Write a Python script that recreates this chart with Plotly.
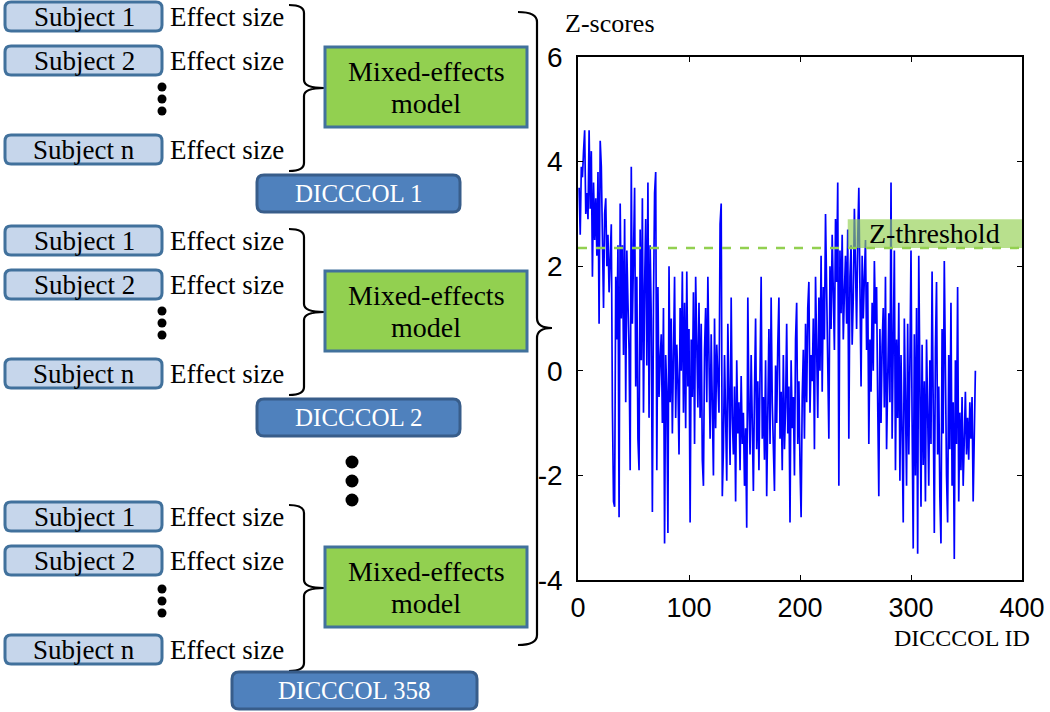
import plotly.graph_objects as go

# ---------------- data ----------------
z_scores = [
    3.5, 2.6, 3.9, 3.7, 4.2, 4.6, 3.0, 3.4, 2.9, 4.6,
    3.1, 4.2, 1.8, 3.6, 2.5, 3.3, 2.2, 3.8, 0.9, 4.4,
    3.9, 2.1, 1.2, 3.0, 3.3, 2.0, 2.6, 1.5, 2.4, 2.8,
    -0.7, -2.5, -2.6, 1.8, 0.6, 2.4, -2.8, 3.2, 1.0, 2.4,
    0.3, 2.9, -0.6, 2.3, 1.3, 0.4, -1.9, 3.9, 0.9, 2.6,
    3.5, -0.3, 1.8, -1.3, -1.9, 2.7, 0.2, 3.3, -0.8, 1.6,
    2.9, 0.1, 3.6, -0.9, 2.4, 1.0, -2.7, 1.3, 3.4, 3.8,
    -1.9, 1.6, -0.5, 0.2, 0.7, -1.0, 1.2, -3.3, 0.3, -0.4,
    -3.1, 2.0, -0.6, 1.0, -1.2, 0.3, 1.8, -0.9, 0.5, -0.2,
    -1.6, 1.2, 0.0, 1.9, -0.8, 1.3, -1.1, 1.9, -0.3, 0.8,
    -2.9, 0.6, -0.5, 1.5, -1.4, 1.8, 0.2, -0.7, 1.3, -0.9,
    0.9, -1.7, -2.2, 0.4, 1.2, -0.6, 1.8, 0.1, -1.3, 0.7,
    -0.4, -2.0, 1.0, -1.1, 0.5, -0.3, -0.8, 2.8, 3.2, -2.4,
    -1.5, 0.3, -1.0, -2.1, 0.9, -0.6, -1.8, 1.4, -0.9, -1.6,
    -0.3, -2.5, 0.2, -1.2, -0.6, -1.9, -0.1, -1.4, -0.8, -2.2,
    -1.1, -3.0, 1.4, -0.7, -1.6, 0.3, -1.2, -2.3, -0.4, 1.0,
    -1.5, -0.2, -1.9, 0.6, 1.8, -1.3, -0.5, -1.7, 0.2, -2.4,
    -0.9, 0.8, -1.4, 1.4, -0.6, -1.8, -2.3, 0.1, -1.0, 0.5,
    1.4, -1.3, -0.4, -1.9, 0.3, -1.5, -0.7, 0.9, -1.2, -0.3,
    -2.9, 0.2, -1.1, -0.5, -2.0, 0.6, 1.3, -1.4, -0.2, -1.8,
    -2.8, -0.5, 0.4, -1.3, 0.9, -0.6, 1.2, 1.7, -0.8, 0.3,
    -0.2, 1.0, -1.5, 1.8, 0.5, -0.9, 1.4, 0.0, 2.2, -0.4,
    1.6, 0.6, 3.0, 1.2, 0.2, -1.3, 2.0, 0.8, 2.6, 1.5,
    0.4, 2.9, 1.7, 3.6, -2.2, 2.3, 1.1, 2.6, 0.6, 1.5,
    2.2, 0.9, 2.7, -1.3, 1.8, 2.4, 0.5, 1.4, 3.1, 2.0,
    0.8, 2.5, 3.5, 1.6, -0.3, 2.2, 1.0, 1.8, 2.5, 0.4,
    1.7, -1.4, 0.6, -0.4, 1.3, 0.0, 2.1, 0.9, 1.6, -0.6,
    -2.4, 0.8, -1.0, 0.5, 1.2, -0.7, 1.8, -1.5, 0.2, 1.1,
    -0.6, 3.6, -1.3, 0.4, 2.3, -1.9, 0.6, -0.9, 1.3, -2.1,
    0.3, -1.2, -2.9, 1.0, -0.5, -2.2, 0.9, -1.6, 0.1, 2.3,
    -1.0, -3.4, 0.7, -2.0, 1.2, -3.5, 2.2, -0.4, -2.6, 0.5,
    -1.8, -0.2, -2.5, 0.6, -1.1, -2.2, 0.2, -1.4, 1.9, -0.9,
    -3.1, 0.4, 1.7, -1.6, -0.3, -2.4, -3.3, 0.8, -1.2, 2.1,
    -0.7, -2.0, -2.9, 0.3, -1.5, 1.3, -2.2, -0.6, -3.6, 0.2,
    -1.4, 1.6, -2.5, -0.8, -1.9, -0.5, -2.2, -1.1, -0.4, -1.6,
    -0.9, -1.7, -0.6, -1.3, -0.5, -2.5, -0.8, 0.0,
]
dicccol_ids = list(range(1, len(z_scores) + 1))
z_threshold = 2.35
x_ticks = [0, 100, 200, 300, 400]
y_ticks = [-4, -2, 0, 2, 4, 6]
y_tick_labels = ["-4", "-2", "0", "2", "4", "6"]
subject_labels = ["Subject 1", "Subject 2", "Subject n"]
group_labels = ["DICCCOL 1", "DICCCOL 2", "DICCCOL 358"]

W, H = 1050, 712


def X(px):
    return px / W


def Y(py):
    return 1 - py / H


def rrect_path(x0, y0, x1, y1, r=6):
    pts = [
        ("M", [(x0 + r, y0)]), ("L", [(x1 - r, y0)]), ("Q", [(x1, y0), (x1, y0 + r)]),
        ("L", [(x1, y1 - r)]), ("Q", [(x1, y1), (x1 - r, y1)]), ("L", [(x0 + r, y1)]),
        ("Q", [(x0, y1), (x0, y1 - r)]), ("L", [(x0, y0 + r)]), ("Q", [(x0, y0), (x0 + r, y0)]),
    ]
    s = ""
    for cmd, ps in pts:
        s += cmd + " " + " ".join(f"{X(a):.5f},{Y(b):.5f}" for a, b in ps) + " "
    return s + "Z"


def brace_path(xl, xv, xc, yt, yb, ym, r=8):
    segs = [
        ("M", [(xl, yt)]), ("Q", [(xv, yt), (xv, yt + r)]), ("L", [(xv, ym - r)]),
        ("Q", [(xv, ym), (xc, ym)]), ("Q", [(xv, ym), (xv, ym + r)]), ("L", [(xv, yb - r)]),
        ("Q", [(xv, yb), (xl, yb)]),
    ]
    s = ""
    for cmd, ps in segs:
        s += cmd + " " + " ".join(f"{X(a):.5f},{Y(b):.5f}" for a, b in ps) + " "
    return s


def note(px, py, text, size=22, color="black", xanchor="center", family="Liberation Serif"):
    return dict(xref="paper", yref="paper", x=X(px), y=Y(py), text=text, showarrow=False,
                xanchor=xanchor, yanchor="middle",
                font=dict(family=family, size=size, color=color))


fig = go.Figure()
fig.add_trace(go.Scatter(x=dicccol_ids, y=z_scores, mode="lines",
                         line=dict(color="#0000FF", width=1.7), showlegend=False))

shapes = []
annotations = []

# threshold line and label box
shapes.append(dict(type="rect", xref="x", yref="y", x0=243, x1=400, y0=z_threshold, y1=2.9,
                   fillcolor="rgba(146,208,80,0.65)", line=dict(width=0), layer="above"))
shapes.append(dict(type="line", xref="x", yref="y", x0=0, x1=400, y0=z_threshold, y1=z_threshold,
                   line=dict(color="#92D050", width=2.5, dash="dash"), layer="above"))
annotations.append(dict(xref="x", yref="y", x=321, y=2.62, text="Z-threshold", showarrow=False,
                        xanchor="center", yanchor="middle",
                        font=dict(family="Liberation Serif", size=28, color="black")))

# left diagram
subj_fill = "#C6D6EB"
subj_line = "#41719C"
offsets = [0, 224, 500]
for g, off in enumerate(offsets):
    centers = [17 + off, 61 + off, 150 + off]
    for lab, cy in zip(subject_labels, centers):
        shapes.append(dict(type="path", xref="paper", yref="paper",
                           path=rrect_path(5, cy - 15, 162, cy + 14, 6),
                           fillcolor=subj_fill, line=dict(color=subj_line, width=3)))
        annotations.append(note(84, cy, lab, size=27))
        annotations.append(note(168, cy, "Effect size", size=27, xanchor="left"))
    # small dots
    for dy in (87, 99, 111):
        yy = dy + off + (2 if g == 2 else 0)
        shapes.append(dict(type="circle", xref="paper", yref="paper",
                           x0=X(157.5), x1=X(166.5), y0=Y(yy - 4.5), y1=Y(yy + 4.5),
                           fillcolor="black", line=dict(width=0)))
    # brace
    shapes.append(dict(type="path", xref="paper", yref="paper",
                       path=brace_path(289, 304, 324, 5 + off, 171 + off, 88 + off, 8),
                       line=dict(color="black", width=2.2)))
    # mixed-effects box
    shapes.append(dict(type="rect", xref="paper", yref="paper",
                       x0=X(325), x1=X(527), y0=Y(47 + off), y1=Y(127 + off),
                       fillcolor="#92D050", line=dict(color="#41719C", width=3)))
    annotations.append(note(426, 71 + off, "Mixed-effects", size=28))
    annotations.append(note(426, 103 + off, "model", size=28))
    # DICCCOL box
    if g < 2:
        bx0, bx1, by0, by1 = 257, 460, 175 + off, 212 + off
    else:
        bx0, bx1, by0, by1 = 232, 477, 672, 709
    shapes.append(dict(type="path", xref="paper", yref="paper",
                       path=rrect_path(bx0, by0, bx1, by1, 7),
                       fillcolor="#4F81BD", line=dict(color="#385D8A", width=3)))
    annotations.append(note((bx0 + bx1) / 2, (by0 + by1) / 2, group_labels[g], size=25,
                            color="white"))

# big dots between groups
for cy in (462, 481, 500):
    shapes.append(dict(type="circle", xref="paper", yref="paper",
                       x0=X(345.5), x1=X(358.5), y0=Y(cy - 6.5), y1=Y(cy + 6.5),
                       fillcolor="black", line=dict(width=0)))

# big brace
shapes.append(dict(type="path", xref="paper", yref="paper",
                   path=brace_path(518, 537, 552, 12, 645, 328, 10),
                   line=dict(color="black", width=2.2)))

# axis titles
annotations.append(note(563, 24, "Z-scores", size=26, xanchor="left"))
annotations.append(note(1032, 638, "DICCCOL ID", size=24, xanchor="right"))

fig.update_layout(
    width=W, height=H,
    margin=dict(l=0, r=0, t=0, b=0, pad=0, autoexpand=False),
    paper_bgcolor="white", plot_bgcolor="white",
    shapes=shapes, annotations=annotations,
    xaxis=dict(domain=[X(578), X(1022)], range=[0, 400], tickvals=x_ticks,
               showline=True, linecolor="black", linewidth=1.5, mirror="ticks",
               ticks="inside", ticklen=5, tickcolor="black", showgrid=False, zeroline=False,
               tickfont=dict(family="Liberation Sans", size=27, color="black"),
               ticklabelstandoff=3, automargin=False),
    yaxis=dict(domain=[1 - 580 / H, 1 - 57 / H], range=[-4, 6], tickvals=y_ticks,
               ticktext=y_tick_labels,
               showline=True, linecolor="black", linewidth=1.5, mirror="ticks",
               ticks="inside", ticklen=5, tickcolor="black", showgrid=False, zeroline=False,
               tickfont=dict(family="Liberation Sans", size=28, color="black"),
               ticklabelstandoff=8, automargin=False),
)

fig.write_html("out.html", config={"displayModeBar": False},
               post_script="document.body.style.margin='0';document.body.style.padding='0';")
